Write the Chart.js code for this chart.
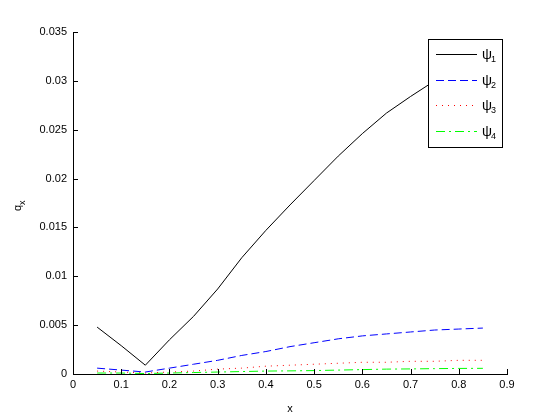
<!DOCTYPE html>
<html>
<head>
<meta charset="utf-8">
<script src="https://cdn.jsdelivr.net/npm/chart.js@4"></script>
<style>
  html, body { margin: 0; padding: 0; background: #fff; }
  #wrap { width: 560px; height: 420px; }
</style>
</head>
<body>
<div id="wrap"><canvas id="qxChart" width="560" height="420"></canvas></div>
<script>
// ------------------ Data ------------------
const xValues = [0.05, 0.1, 0.15, 0.2, 0.25, 0.3, 0.35, 0.4, 0.45, 0.5, 0.55, 0.6, 0.65, 0.7, 0.75, 0.8, 0.85];
const psi1 = [0.0048, 0.0029, 0.0009, 0.0035, 0.0059, 0.0087, 0.0119, 0.0147, 0.0173, 0.0198, 0.0223, 0.0246, 0.0267, 0.0284, 0.0300, 0.0312, 0.0322];
const psi2 = [0.0006, 0.0004, 0.0002, 0.0006, 0.0010, 0.0014, 0.0019, 0.0023, 0.0028, 0.0032, 0.0036, 0.0039, 0.0041, 0.0043, 0.0045, 0.0046, 0.0047];
const psi3 = [0.0003, 0.0002, 0.0001, 0.0002, 0.0003, 0.0005, 0.0006, 0.0008, 0.0009, 0.0010, 0.0011, 0.0012, 0.0012, 0.0013, 0.0013, 0.0014, 0.0014];
const psi4 = [0.0001, 0.0001, 0.00005, 0.0001, 0.00015, 0.0002, 0.00025, 0.0003, 0.00032, 0.00035, 0.0004, 0.00045, 0.0005, 0.00052, 0.00055, 0.00057, 0.00058];
const xTicks = [0, 0.1, 0.2, 0.3, 0.4, 0.5, 0.6, 0.7, 0.8, 0.9];
const yTicks = [0, 0.005, 0.01, 0.015, 0.02, 0.025, 0.03, 0.035];
const seriesNames = ["1", "2", "3", "4"];

const FONT = "'Liberation Sans', Arial, sans-serif";

function toPoints(ys) {
  return xValues.map((x, i) => ({ x, y: ys[i] }));
}

// ------------------ Plugins ------------------
// inward ticks, y title with subscript, boxed legend
const matlabLook = {
  id: "matlabLook",
  afterDatasetsDraw(chart) {
    const { ctx, chartArea, scales } = chart;
    ctx.save();
    ctx.strokeStyle = "#000";
    ctx.lineWidth = 1;
    ctx.setLineDash([]);
    ctx.beginPath();
    xTicks.forEach(t => {
      const px = Math.round(scales.x.getPixelForValue(t)) + 0.5;
      ctx.moveTo(px, chartArea.bottom);
      ctx.lineTo(px, chartArea.bottom - 5);
    });
    yTicks.forEach(t => {
      const py = Math.round(scales.y.getPixelForValue(t)) + 0.5;
      ctx.moveTo(chartArea.left, py);
      ctx.lineTo(chartArea.left + 5, py);
    });
    ctx.stroke();

    // y axis title q_x
    ctx.save();
    ctx.translate(21, 206);
    ctx.rotate(-Math.PI / 2);
    ctx.fillStyle = "#000";
    ctx.textBaseline = "alphabetic";
    ctx.font = "11px " + FONT;
    ctx.fillText("q", -5, 0);
    ctx.font = "9px " + FONT;
    ctx.fillText("x", 1, 4);
    ctx.restore();

    // legend
    const box = { left: 428.5, top: 39.5, right: 502.5, bottom: 147.5 };
    ctx.fillStyle = "#fff";
    ctx.fillRect(box.left, box.top, box.right - box.left, box.bottom - box.top);
    ctx.strokeStyle = "#000";
    ctx.strokeRect(box.left, box.top, box.right - box.left, box.bottom - box.top);
    const rows = [54, 80, 105, 131];
    chart.data.datasets.forEach((ds, i) => {
      const y = rows[i] + 0.5;
      ctx.strokeStyle = ds.borderColor;
      ctx.lineWidth = ds.borderWidth;
      ctx.setLineDash(ds.borderDash || []);
      ctx.beginPath();
      ctx.moveTo(436, y);
      ctx.lineTo(477, y);
      ctx.stroke();
      ctx.setLineDash([]);
      ctx.fillStyle = "#000";
      ctx.textBaseline = "middle";
      ctx.font = "14px " + FONT;
      ctx.fillText("\u03c8", 482, rows[i] + 1);
      ctx.font = "9px " + FONT;
      ctx.fillText(seriesNames[i], 491, rows[i] + 6);
    });
    ctx.restore();
  }
};

// ------------------ Chart ------------------
const ctx = document.getElementById("qxChart").getContext("2d");
new Chart(ctx, {
  type: "line",
  data: {
    datasets: [
      { label: "\u03c81", data: toPoints(psi1), borderColor: "#000000", borderWidth: 1, borderDash: [] },
      { label: "\u03c82", data: toPoints(psi2), borderColor: "#0000ff", borderWidth: 1, borderDash: [8, 4] },
      { label: "\u03c83", data: toPoints(psi3), borderColor: "#ff0000", borderWidth: 1, borderDash: [1, 5] },
      { label: "\u03c84", data: toPoints(psi4), borderColor: "#00ff00", borderWidth: 1, borderDash: [9, 4, 2, 4] }
    ]
  },
  options: {
    responsive: false,
    animation: false,
    devicePixelRatio: 1,
    elements: { point: { radius: 0 }, line: { tension: 0 } },
    layout: { padding: { left: 0, right: 53, top: 32, bottom: 0 } },
    plugins: { legend: { display: false }, tooltip: { enabled: false } },
    scales: {
      x: {
        type: "linear",
        min: 0,
        max: 0.9,
        afterFit: s => { s.height = 46; },
        afterBuildTicks: s => { s.ticks = xTicks.map(v => ({ value: v })); },
        ticks: { color: "#000", font: { family: FONT, size: 11 }, padding: 4, maxRotation: 0,
                 callback: v => String(v) },
        grid: { display: false, drawTicks: false },
        border: { display: true, color: "#000", width: 1 },
        title: { display: true, text: "x", color: "#000", font: { family: FONT, size: 11 }, padding: { top: 3 } }
      },
      y: {
        type: "linear",
        min: 0,
        max: 0.035,
        afterFit: s => { s.width = 73; },
        afterBuildTicks: s => { s.ticks = yTicks.map(v => ({ value: v })); },
        ticks: { color: "#000", font: { family: FONT, size: 11 }, padding: 6,
                 callback: v => String(+v.toFixed(3)) },
        grid: { display: false, drawTicks: false },
        border: { display: true, color: "#000", width: 1 }
      }
    }
  },
  plugins: [matlabLook]
});
</script>
</body>
</html>
